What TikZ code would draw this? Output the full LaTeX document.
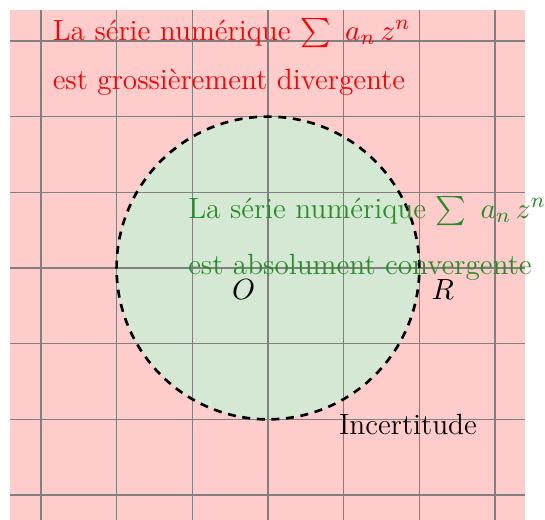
\documentclass[tikz,border=0pt]{standalone}
\usepackage{amsmath}
\definecolor{pinkbg}{RGB}{255,204,204}
\definecolor{greenbg}{RGB}{212,232,212}
\definecolor{txtgreen}{RGB}{40,140,40}
\begin{document}
\begin{tikzpicture}[
  lbl/.style={inner sep=0pt, font=\fontsize{11}{16}\selectfont},
  info/.style={lbl, align=left, anchor=north west}
]
\useasboundingbox (-3.54,-3.32) rectangle (3.66,3.54);
\fill[pinkbg] (-3.41,-3.41) rectangle (3.39,3.41);
\coordinate (O) at (0,0);
\fill[greenbg] (O) circle (2);
\draw[gray, line width=0.5pt] (-3.41,-3.41) grid (3.39,3.41);
\draw[black, line width=1pt, dash pattern=on 3pt off 2.5pt] (O) circle (2);
\node[info, text=red] (div) at (-2.85,3.30)
  {La série numérique $\sum~a_n\,z^n$\\[2.5pt] est grossièrement divergente};
\node[info, text=txtgreen] (conv) at (-1.06,0.95)
  {La série numérique $\sum~a_n\,z^n$\\[5pt] est absolument convergente};
\node[lbl] (o) at (-0.32,-0.28) {$O$};
\node[lbl] (r) at (2.31,-0.29) {$R$};
\node[lbl] (inc) at (1.85,-2.07) {Incertitude};
\end{tikzpicture}
\end{document}
